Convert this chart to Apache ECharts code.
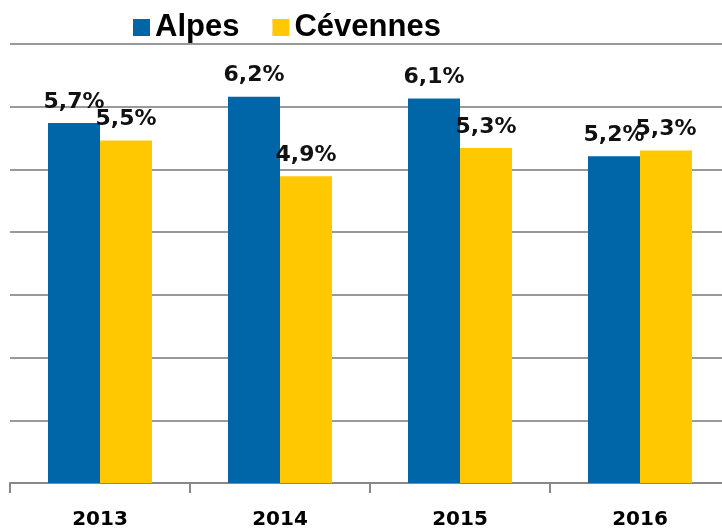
<!DOCTYPE html>
<html>
<head>
<meta charset="utf-8">
<script src="https://cdn.jsdelivr.net/npm/echarts@6/dist/echarts.min.js"></script>
<style>
  html, body { margin: 0; padding: 0; background: #fff; }
  #chart { width: 722px; height: 530px; }
</style>
</head>
<body>
<div id="chart"></div>
<script>
  // données (étiquettes arrondies à 0,1)
  var years = ['2013', '2014', '2015', '2016'];
  var alpes = [5.74, 6.16, 6.13, 5.21];
  var cevennes = [5.46, 4.89, 5.34, 5.30];

  var chart = echarts.init(document.getElementById('chart'));

  var labelStyle = {
    show: true,
    position: 'top',
    distance: 10,
    fontFamily: 'DejaVu Sans',
    fontWeight: 'bold',
    fontSize: 22,
    color: '#111',
    formatter: function (p) {
      return p.value.toFixed(1).replace('.', ',') + '%';
    }
  };

  chart.setOption({
    animation: false,
    legend: {
      left: 128,
      top: 7,
      itemWidth: 17,
      itemHeight: 17,
      itemGap: 33,
      icon: 'rect',
      textStyle: {
        fontFamily: 'Liberation Sans',
        fontWeight: 'bold',
        fontSize: 31,
        color: '#000'
      },
      data: ['Alpes', 'Cévennes']
    },
    grid: {
      left: 10,
      width: 720,
      top: 44,
      bottom: 47,
      outerBoundsMode: 'none'
    },
    xAxis: {
      type: 'category',
      data: years,
      axisLine: { lineStyle: { color: '#888', width: 2 } },
      axisTick: { show: true, length: 10, lineStyle: { color: '#888', width: 2 } },
      axisLabel: {
        margin: 27,
        fontFamily: 'DejaVu Sans',
        fontWeight: 'bold',
        fontSize: 20,
        color: '#000'
      }
    },
    yAxis: {
      type: 'value',
      min: 0,
      max: 7,
      interval: 1,
      axisLabel: { show: false },
      axisLine: { show: false },
      axisTick: { show: false },
      splitLine: { lineStyle: { color: '#999', width: 2 } }
    },
    series: [
      {
        name: 'Alpes',
        type: 'bar',
        data: alpes,
        barWidth: 52,
        barGap: '0%',
        itemStyle: { color: '#0066A8' },
        label: labelStyle
      },
      {
        name: 'Cévennes',
        type: 'bar',
        data: cevennes,
        barWidth: 52,
        itemStyle: { color: '#FFC800' },
        label: labelStyle
      }
    ]
  });
</script>
</body>
</html>
